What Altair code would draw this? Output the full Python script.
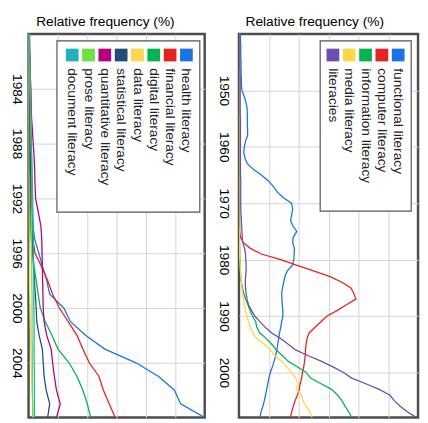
import altair as alt
import pandas as pd

FONT = "Liberation Sans"

# ---------------- Left panel data ----------------
years_left = list(range(1980, 2009))
names_left = ["health literacy", "financial literacy", "digital literacy", "data literacy",
              "statistical literacy", "quantitative literacy", "prose literacy", "document literacy"]
colors_left = ["#1A73E8", "#E8231F", "#00B451", "#FFD54A", "#1F4E79", "#B4007C", "#6BE244", "#21B1B8"]

health = [0.03, 0.03, 0.04, 0.04, 0.05, 0.05, 0.06, 0.06, 0.07, 0.07,
          0.08, 0.08, 0.09, 0.12, 0.15, 0.21, 0.35, 0.48, 0.62, 0.72,
          1.20, 1.43, 1.95, 2.60, 3.66, 4.43, 4.97, 5.18, 6.00]
financial = [0.01, 0.01, 0.01, 0.01, 0.01, 0.01, 0.02, 0.02, 0.02, 0.02,
             0.03, 0.04, 0.05, 0.08, 0.10, 0.15, 0.22, 0.45, 0.65, 0.82,
             1.05, 1.35, 1.65, 1.85, 2.07, 2.40, 2.55, 2.75, 2.95]
digital = [0.00, 0.00, 0.00, 0.01, 0.01, 0.01, 0.01, 0.01, 0.02, 0.02,
           0.02, 0.02, 0.03, 0.05, 0.07, 0.09, 0.13, 0.19, 0.26, 0.33,
           0.40, 0.57, 0.80, 1.00, 1.38, 1.65, 1.85, 2.00, 2.12]
data_lit = [0.00, 0.00, 0.00, 0.00, 0.00, 0.00, 0.00, 0.00, 0.00, 0.00,
            0.00, 0.01, 0.01, 0.01, 0.02, 0.02, 0.02, 0.03, 0.03, 0.04,
            0.05, 0.06, 0.07, 0.08, 0.09, 0.10, 0.12, 0.14, 0.16]
statistical = [0.02, 0.02, 0.03, 0.03, 0.04, 0.04, 0.05, 0.05, 0.06, 0.06,
               0.07, 0.08, 0.09, 0.10, 0.11, 0.13, 0.15, 0.17, 0.20, 0.23,
               0.26, 0.28, 0.36, 0.47, 0.50, 0.53, 0.60, 0.72, 0.65]
quantitative = [0.03, 0.04, 0.05, 0.06, 0.08, 0.09, 0.10, 0.13, 0.16, 0.19,
                0.21, 0.22, 0.24, 0.33, 0.42, 0.45, 0.46, 0.47, 0.48, 0.49,
                0.50, 0.53, 0.62, 0.77, 0.82, 0.88, 0.95, 1.08, 0.95]
prose = [0.02, 0.02, 0.03, 0.04, 0.05, 0.06, 0.07, 0.08, 0.09, 0.10,
         0.12, 0.13, 0.12, 0.11, 0.10, 0.10, 0.10, 0.11, 0.11, 0.12,
         0.12, 0.12, 0.12, 0.13, 0.13, 0.13, 0.13, 0.14, 0.14]
document = [0.03, 0.03, 0.04, 0.05, 0.06, 0.07, 0.08, 0.09, 0.10, 0.11,
            0.12, 0.13, 0.14, 0.15, 0.16, 0.16, 0.17, 0.17, 0.18, 0.18,
            0.18, 0.19, 0.19, 0.19, 0.19, 0.20, 0.20, 0.20, 0.20]
series_left = [health, financial, digital, data_lit, statistical, quantitative, prose, document]
ticks_left = [1984, 1988, 1992, 1996, 2000, 2004]

# ---------------- Right panel data ----------------
years_right = list(range(1940, 2009))
names_right = ["functional literacy", "computer literacy", "information literacy",
               "media literacy", "literacies"]
colors_right = ["#1A73E8", "#E8231F", "#00B451", "#FFD54A", "#6A4EB0"]

functional = [0.05, 0.05, 0.06, 0.06, 0.06, 0.07, 0.07, 0.07, 0.08, 0.08,
              0.10, 0.17, 0.23, 0.27, 0.28, 0.28, 0.28, 0.29, 0.29, 0.22,
              0.18, 0.16, 0.20, 0.28, 0.48, 0.75, 0.98, 1.15, 1.28, 1.48,
              1.76, 1.80, 1.77, 1.73, 1.80, 1.94, 1.82, 1.80, 1.86, 1.85,
              1.84, 1.79, 1.62, 1.54, 1.50, 1.46, 1.43, 1.44, 1.45, 1.47,
              1.47, 1.43, 1.40, 1.36, 1.33, 1.30, 1.27, 1.23, 1.18, 1.12,
              1.05, 1.00, 0.97, 0.93, 0.89, 0.85, 0.80, 0.74, 0.70]
computer = [0.01, 0.01, 0.01, 0.01, 0.01, 0.01, 0.01, 0.01, 0.01, 0.01,
            0.01, 0.01, 0.01, 0.01, 0.01, 0.01, 0.01, 0.01, 0.01, 0.01,
            0.01, 0.01, 0.01, 0.01, 0.01, 0.01, 0.01, 0.01, 0.01, 0.01,
            0.01, 0.01, 0.01, 0.01, 0.02, 0.02, 0.05, 0.15, 0.38, 0.75,
            1.40, 1.95, 2.50, 3.05, 3.45, 3.75, 3.85, 3.92, 3.60, 3.30,
            2.95, 2.75, 2.55, 2.35, 2.28, 2.25, 2.23, 2.22, 2.20, 2.17,
            2.13, 2.10, 2.05, 2.02, 1.96, 1.88, 1.82, 1.77, 1.72]
information = [0.00, 0.00, 0.00, 0.00, 0.00, 0.00, 0.00, 0.00, 0.00, 0.00,
               0.00, 0.00, 0.00, 0.00, 0.00, 0.00, 0.00, 0.00, 0.00, 0.00,
               0.00, 0.00, 0.00, 0.00, 0.00, 0.00, 0.00, 0.00, 0.00, 0.00,
               0.00, 0.00, 0.00, 0.00, 0.00, 0.01, 0.01, 0.01, 0.02, 0.02,
               0.03, 0.04, 0.05, 0.06, 0.08, 0.12, 0.16, 0.22, 0.30, 0.37,
               0.45, 0.56, 0.60, 0.70, 0.92, 1.10, 1.25, 1.45, 1.65, 1.95,
               2.25, 2.40, 2.75, 3.10, 3.30, 3.45, 3.56, 3.68, 3.78]
media = [0.00, 0.00, 0.00, 0.00, 0.00, 0.00, 0.00, 0.00, 0.00, 0.00,
         0.00, 0.00, 0.00, 0.00, 0.00, 0.00, 0.00, 0.00, 0.00, 0.00,
         0.00, 0.00, 0.00, 0.00, 0.00, 0.00, 0.00, 0.00, 0.00, 0.00,
         0.00, 0.00, 0.00, 0.00, 0.00, 0.01, 0.01, 0.01, 0.02, 0.02,
         0.03, 0.04, 0.05, 0.06, 0.08, 0.10, 0.12, 0.15, 0.18, 0.22,
         0.26, 0.32, 0.38, 0.46, 0.60, 0.85, 1.05, 1.20, 1.42, 1.60,
         1.76, 1.90, 1.98, 1.92, 2.10, 2.14, 2.25, 2.38, 2.45]
literacies = [0.03, 0.03, 0.03, 0.03, 0.03, 0.03, 0.03, 0.04, 0.04, 0.04,
              0.04, 0.04, 0.04, 0.04, 0.04, 0.05, 0.05, 0.05, 0.05, 0.05,
              0.05, 0.05, 0.05, 0.05, 0.05, 0.05, 0.06, 0.06, 0.06, 0.06,
              0.06, 0.06, 0.07, 0.08, 0.09, 0.10, 0.11, 0.13, 0.19, 0.22,
              0.23, 0.24, 0.24, 0.22, 0.21, 0.22, 0.24, 0.27, 0.32, 0.42,
              0.53, 0.70, 0.88, 1.10, 1.40, 1.65, 1.90, 2.30, 2.75, 3.15,
              3.50, 3.78, 4.25, 4.70, 5.05, 5.20, 5.40, 5.65, 5.95]
series_right = [functional, computer, information, media, literacies]
ticks_right = [1950, 1960, 1970, 1980, 1990, 2000]

for s in series_left:
    assert len(s) == len(years_left)
for s in series_right:
    assert len(s) == len(years_right)

PLOT_H = 392
STEP = 16.67


def panel(years, names, colors, series, domain, ticks, width, title_x, label_pad, box, sq_right):
    rows = []
    for n, vals in zip(names, series):
        for yr, v in zip(years, vals):
            rows.append({"year": yr, "value": v, "series": n})
    df = pd.DataFrame(rows)

    x = alt.X("value:Q", scale=alt.Scale(domain=[0, 6], nice=False, zero=True),
              axis=alt.Axis(orient="top", title="Relative frequency (%)", labels=False, ticks=False,
                            domain=False, grid=True, values=[1, 2, 3, 4, 5],
                            titleX=title_x, titleAlign="center", titlePadding=6))
    y = alt.Y("year:Q", scale=alt.Scale(domain=domain, reverse=True, nice=False, zero=False),
              axis=alt.Axis(values=ticks, format="d", labelAngle=90, labelAlign="center",
                            labelBaseline="top", labelPadding=label_pad, ticks=False,
                            domain=False, grid=True, title=None))
    lines = alt.Chart(df).mark_line(strokeWidth=1.3, clip=True).encode(
        x=x, y=y,
        color=alt.Color("series:N", scale=alt.Scale(domain=names, range=colors), legend=None),
        order=alt.Order("year:Q"),
    )
    one = pd.DataFrame({"k": [0]})
    layers = [lines]
    layers.append(alt.Chart(one).mark_rect(fill="white", stroke="#555555", strokeWidth=1.2).encode(
        x=alt.value(box[0]), x2=alt.value(box[1]), y=alt.value(box[2]), y2=alt.value(box[3])))
    for i, (n, c) in enumerate(zip(names, colors)):
        cx = sq_right - i * STEP
        layers.append(alt.Chart(one).mark_square(size=169, color=c, opacity=1, strokeWidth=0).encode(
            x=alt.value(cx), y=alt.value(21.5)))
        layers.append(alt.Chart(one).mark_text(text=n, angle=90, align="left", baseline="middle",
                                               fontSize=14, font=FONT, color="#222222").encode(
            x=alt.value(cx), y=alt.value(35)))
    return alt.layer(*layers).properties(width=width, height=PLOT_H)


left = panel(years_left, names_left, colors_left, series_left, [1980, 2008], ticks_left,
             180, 78, 5, (29, 175, 7, 182), 161.3)
right = panel(years_right, names_right, colors_right, series_right, [1940, 2008], ticks_right,
              183, 77, 9, (83, 176, 7, 181), 162.7)

chart = alt.hconcat(left, right, spacing=35, bounds="flush").resolve_scale(
    color="independent"
).properties(
    padding={"left": 0, "top": 0, "right": 0, "bottom": 0},
    background="white",
).configure_view(
    stroke="#4d4d4d", strokeWidth=2.5
).configure_axis(
    labelFont=FONT, titleFont=FONT, labelFontSize=14, titleFontSize=14,
    titleFontWeight="normal", labelColor="#000000", titleColor="#000000",
    gridColor="#d4d4d4", gridWidth=1,
)

chart.save("out.html", embed_options={"renderer": "svg", "actions": False})
